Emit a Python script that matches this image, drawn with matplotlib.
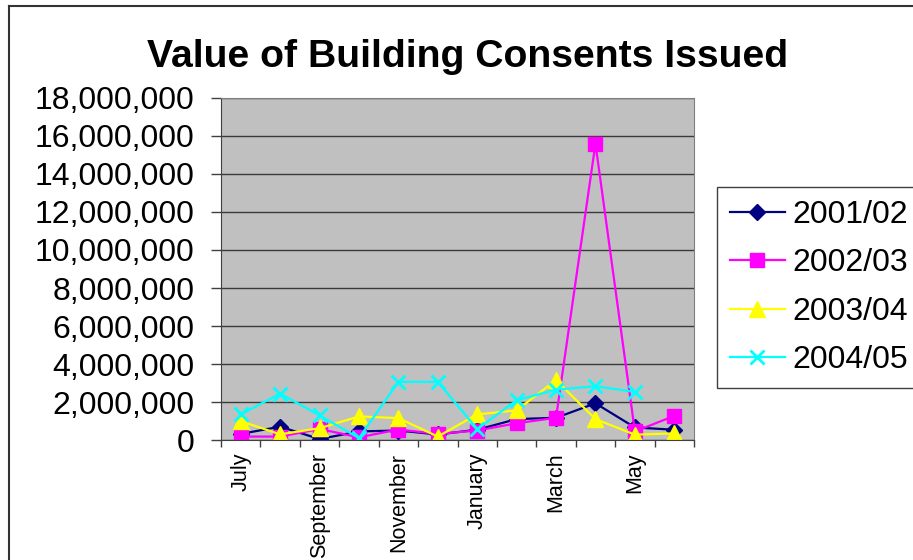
import matplotlib
matplotlib.use('Agg')
import matplotlib.pyplot as plt
from matplotlib.lines import Line2D
from matplotlib.ticker import FuncFormatter
import numpy as np

months = ['July', 'August', 'September', 'October', 'November', 'December',
          'January', 'February', 'March', 'April', 'May', 'June']
labels = ['2001/02', '2002/03', '2003/04', '2004/05']
# values in dollars
s2001 = [320000, 700000, 50000, 450000, 500000, 290000,
         540000, 1100000, 1170000, 1930000, 660000, 540000]
s2002 = [180000, 180000, 580000, 140000, 550000, 320000,
         500000, 880000, 1170000, 15600000, 450000, 1270000]
s2003 = [990000, 300000, 620000, 1240000, 1150000, 180000,
         1350000, 1560000, 3150000, 1100000, 280000, 350000]
s2004 = [1350000, 2440000, 1300000, 100000, 3060000, 3060000,
         580000, 2090000, 2650000, 2830000, 2530000, np.nan]

plt.rcParams['font.family'] = ['Liberation Sans', 'DejaVu Sans']

fig = plt.figure(figsize=(9.13, 5.6), dpi=100)
ax = fig.add_axes([221/913, 120/560, 473/913, 342/560])
ax.set_facecolor('#C0C0C0')

x = np.arange(len(months))
ax.plot(x, s2001, color='#000080', lw=1.6, marker='D', ms=8, label=labels[0])
ax.plot(x, s2002, color='#FF00FF', lw=1.6, marker='s', ms=10, label=labels[1])
ax.plot(x, s2003, color='#FFFF00', lw=1.6, marker='^', ms=11, label=labels[2])
ax.plot(x, s2004, color='#00FFFF', lw=1.6, marker='x', ms=10, mew=2, label=labels[3])

ax.set_ylim(0, 18000000)
ax.set_yticks(np.arange(0, 18000001, 2000000))
ax.yaxis.set_major_formatter(FuncFormatter(lambda v, p: '{:,.0f}'.format(v)))
ax.yaxis.grid(True, color='#3a3a3a', lw=1)
ax.set_axisbelow(True)
ax.tick_params(axis='y', length=7, width=1, pad=12, labelsize=23, color='#404040')

ax.set_xlim(-0.5, 11.5)
ax.set_xticks(x[::2])
ax.set_xticklabels(months[::2], rotation=90, fontsize=15.5)
ax.set_xticks(np.arange(-0.5, 12, 1), minor=True)
ax.tick_params(axis='x', which='major', length=0, pad=9)
ax.tick_params(axis='x', which='minor', length=5, width=1, color='#404040')

for side in ['top', 'right']:
    ax.spines[side].set_color('#808080')
for side in ['left', 'bottom']:
    ax.spines[side].set_color('#404040')

fig.text(468/913, 1 - 67/560, 'Value of Building Consents Issued',
         ha='center', va='baseline', fontsize=28.2, fontweight='bold')

leg = fig.legend(loc='upper left', bbox_to_anchor=(717/913, 1 - 187/560),
                 fontsize=23, frameon=True, fancybox=False, framealpha=1,
                 edgecolor='#404040', borderpad=0.4, labelspacing=0.58,
                 handlelength=1.72, handletextpad=0.25, borderaxespad=0)
leg.get_frame().set_linewidth(1)

# outer chart border
fig.add_artist(Line2D([9/913, 9/913], [0, 1 - 6/560], transform=fig.transFigure,
                      color='#333333', lw=1.5))
fig.add_artist(Line2D([9/913, 1], [1 - 6/560, 1 - 6/560], transform=fig.transFigure,
                      color='#333333', lw=1.5))

fig.savefig('out.png', dpi=100)
